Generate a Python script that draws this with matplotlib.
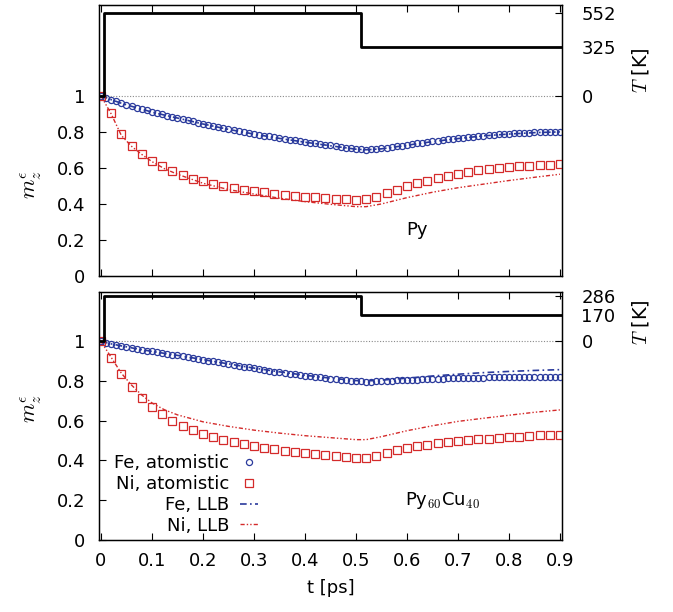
import numpy as np
import matplotlib
matplotlib.use("Agg")
import matplotlib.pyplot as plt

plt.rcParams["mathtext.fontset"] = "cm"

# ---------------- data ----------------
t_fe = np.round(np.linspace(0, 0.9, 91), 3)      # circle sampling (0.01 ps)
t_ni = np.round(np.linspace(0, 0.9, 46), 3)      # square sampling (0.02 ps)
t_llb = [0, 0.01, 0.02, 0.03, 0.04, 0.06, 0.08, 0.1, 0.125, 0.15, 0.2, 0.25, 0.3,
         0.35, 0.4, 0.45, 0.5, 0.52, 0.55, 0.6, 0.65, 0.7, 0.75, 0.8, 0.85, 0.9]

# Py (top)
py_fe_atom = [1.000, 0.990, 0.979, 0.970, 0.960, 0.951, 0.943, 0.935, 0.927, 0.919,
              0.911, 0.905, 0.898, 0.891, 0.885, 0.879, 0.872, 0.865, 0.859, 0.852,
              0.846, 0.840, 0.834, 0.828, 0.822, 0.816, 0.811, 0.806, 0.800, 0.795,
              0.790, 0.785, 0.780, 0.775, 0.770, 0.766, 0.762, 0.757, 0.753, 0.749,
              0.745, 0.741, 0.737, 0.733, 0.729, 0.725, 0.721, 0.717, 0.713, 0.709,
              0.706, 0.703, 0.702, 0.703, 0.705, 0.708, 0.712, 0.716, 0.720, 0.724,
              0.728, 0.732, 0.736, 0.740, 0.744, 0.748, 0.751, 0.755, 0.758, 0.762,
              0.765, 0.768, 0.771, 0.774, 0.777, 0.780, 0.782, 0.784, 0.786, 0.788,
              0.790, 0.792, 0.793, 0.795, 0.796, 0.797, 0.798, 0.799, 0.800, 0.801,
              0.802]
py_ni_atom = [1.0, 0.905, 0.79, 0.72, 0.675, 0.64, 0.61, 0.585, 0.56, 0.54,
              0.525, 0.51, 0.50, 0.49, 0.48, 0.472, 0.465, 0.458, 0.452, 0.446,
              0.44, 0.436, 0.432, 0.428, 0.425, 0.422, 0.425, 0.44, 0.46, 0.48,
              0.50, 0.515, 0.53, 0.545, 0.557, 0.568, 0.578, 0.586, 0.593, 0.599,
              0.604, 0.608, 0.612, 0.615, 0.618, 0.62]
py_fe_llb = [1.0, 0.990, 0.979, 0.969, 0.959, 0.942, 0.926, 0.910, 0.893, 0.877,
             0.844, 0.814, 0.788, 0.764, 0.743, 0.723, 0.704, 0.701, 0.706, 0.726,
             0.746, 0.763, 0.778, 0.788, 0.796, 0.800]
py_ni_llb = [1.0, 0.95, 0.90, 0.84, 0.78, 0.72, 0.675, 0.635, 0.595, 0.565,
             0.515, 0.48, 0.455, 0.432, 0.413, 0.398, 0.385, 0.385, 0.40, 0.435,
             0.465, 0.49, 0.51, 0.53, 0.548, 0.565]

# Py60Cu40 (bottom)
pc_fe_atom = [1.000, 0.994, 0.988, 0.983, 0.978, 0.973, 0.968, 0.963, 0.959, 0.954,
              0.950, 0.946, 0.942, 0.938, 0.934, 0.930, 0.926, 0.921, 0.917, 0.913,
              0.909, 0.904, 0.900, 0.895, 0.891, 0.886, 0.882, 0.877, 0.873, 0.869,
              0.864, 0.860, 0.856, 0.852, 0.848, 0.844, 0.841, 0.837, 0.834, 0.831,
              0.828, 0.825, 0.822, 0.819, 0.816, 0.813, 0.810, 0.808, 0.805, 0.803,
              0.801, 0.799, 0.798, 0.798, 0.799, 0.800, 0.801, 0.802, 0.804, 0.805,
              0.806, 0.807, 0.808, 0.809, 0.810, 0.811, 0.812, 0.813, 0.814, 0.815,
              0.816, 0.816, 0.817, 0.817, 0.818, 0.818, 0.819, 0.819, 0.819, 0.820,
              0.820, 0.820, 0.820, 0.821, 0.821, 0.821, 0.821, 0.821, 0.821, 0.822,
              0.822]
pc_ni_atom = [1.0, 0.915, 0.835, 0.77, 0.715, 0.67, 0.635, 0.60, 0.575, 0.553,
              0.535, 0.518, 0.505, 0.493, 0.482, 0.472, 0.464, 0.456, 0.449, 0.443,
              0.437, 0.431, 0.426, 0.421, 0.417, 0.413, 0.413, 0.425, 0.44, 0.452,
              0.463, 0.472, 0.479, 0.486, 0.492, 0.497, 0.502, 0.506, 0.51, 0.514,
              0.517, 0.52, 0.523, 0.526, 0.528, 0.53]
pc_fe_llb = [1.0, 0.994, 0.988, 0.983, 0.978, 0.968, 0.959, 0.950, 0.940, 0.930,
             0.909, 0.887, 0.866, 0.847, 0.830, 0.815, 0.803, 0.801, 0.805, 0.815,
             0.826, 0.835, 0.843, 0.849, 0.854, 0.858]
pc_ni_llb = [1.0, 0.96, 0.92, 0.88, 0.84, 0.78, 0.73, 0.69, 0.655, 0.63,
             0.595, 0.572, 0.553, 0.538, 0.525, 0.515, 0.505, 0.505, 0.52, 0.55,
             0.575, 0.597, 0.613, 0.628, 0.643, 0.655]

# temperature pulse (step profile)
t_temp = [-0.004, 0.006, 0.51, 0.904]
py_temp = [0, 552, 325, 325]
pc_temp = [0, 286, 170, 170]
py_temp_ticks = [0, 325, 552]
pc_temp_ticks = [0, 170, 286]

x_ticks = [0, 0.1, 0.2, 0.3, 0.4, 0.5, 0.6, 0.7, 0.8, 0.9]
x_ticklabels = ["0", "0.1", "0.2", "0.3", "0.4", "0.5", "0.6", "0.7", "0.8", "0.9"]
y_ticks = [0, 0.2, 0.4, 0.6, 0.8, 1]
y_ticklabels = ["0", "0.2", "0.4", "0.6", "0.8", "1"]

BLUE = "#2a3a9c"
RED = "#d42a2a"
FS = 13

fig = plt.figure(figsize=(6.73, 6.12), dpi=100)
ax_top = fig.add_axes([0.147, 0.549, 0.688, 0.443])
ax_bot = fig.add_axes([0.147, 0.118, 0.688, 0.405])


def panel(ax, fe_atom, ni_atom, fe_llb, ni_llb, temp, tticks, ymax, t_top, label, lx, ly, show_x):
    ax.set_xlim(-0.004, 0.904)
    ax.set_ylim(0, ymax)
    ax.axhline(1.0, color="#8a8a8a", lw=0.8, ls=(0, (1, 1.5)), zorder=1)
    l1, = ax.plot(t_fe, fe_atom, ls="none", marker="o", ms=4.4, mfc="none",
                  mec=BLUE, mew=0.9, label="Fe, atomistic", zorder=3)
    l2, = ax.plot(t_ni, ni_atom, ls="none", marker="s", ms=5.4, mfc="none",
                  mec=RED, mew=0.9, label="Ni, atomistic", zorder=3)
    l3, = ax.plot(t_llb, fe_llb, color=BLUE, lw=1.2, ls=(0, (4, 2, 1, 2)),
                  label="Fe, LLB", zorder=2)
    l4, = ax.plot(t_llb, ni_llb, color=RED, lw=1.0, ls=(0, (3, 1.5, 1, 1.5, 1, 1.5)),
                  label="Ni, LLB", zorder=2)
    ax.set_xticks(x_ticks)
    ax.set_yticks(y_ticks)
    ax.set_yticklabels(y_ticklabels)
    if show_x:
        ax.set_xticklabels(x_ticklabels)
    else:
        ax.set_xticklabels([])
    ax.tick_params(direction="in", length=5, width=0.8, top=True, right=True,
                   labelsize=FS, pad=10)
    ax.tick_params(axis="x", pad=9)
    for s in ax.spines.values():
        s.set_linewidth(1.0)
    ax.set_ylabel(r"$m_z^{\epsilon}$", fontsize=FS + 3)
    ax.text(lx, ly, label, fontsize=FS, ha="center", va="center")

    # temperature axis sharing zero with m=1
    k = (t_top - 1.0) / tticks[-1]
    tw = ax.twinx()
    tw.set_ylim((0 - 1.0) / k, (ymax - 1.0) / k)
    tw.step(t_temp, temp, where="post", color="black", lw=2.0, zorder=5)
    tw.set_yticks(tticks)
    tw.set_yticklabels([str(v) for v in tticks])
    tw.tick_params(direction="in", length=5, width=0.8, labelsize=FS, pad=14)
    tw.set_ylabel(r"$T$ [K]", fontsize=FS + 1)
    return [l1, l2, l3, l4], tw


_, tw_t = panel(ax_top, py_fe_atom, py_ni_atom, py_fe_llb, py_ni_llb, py_temp, py_temp_ticks,
                1.505, 1.46, "Py", 0.62, 0.255, False)
handles, tw_b = panel(ax_bot, pc_fe_atom, pc_ni_atom, pc_fe_llb, pc_ni_llb, pc_temp,
                      pc_temp_ticks, 1.25, 1.227, r"Py$_{60}$Cu$_{40}$", 0.67, 0.20, True)

ax_top.yaxis.set_label_coords(-0.118, 0.336)
ax_bot.yaxis.set_label_coords(-0.118, 0.53)
tw_t.yaxis.set_label_coords(1.148, 0.76)
tw_b.yaxis.set_label_coords(1.148, 0.88)

ax_bot.set_xlabel("t [ps]", fontsize=FS, labelpad=6)

ax_bot.legend(handles=handles, loc="lower left", bbox_to_anchor=(0.005, -0.03),
              frameon=False, markerfirst=False, fontsize=FS, handlelength=1.0,
              handletextpad=0.6, labelspacing=0.15, borderaxespad=0.3)

fig.savefig("out.png", dpi=100)
